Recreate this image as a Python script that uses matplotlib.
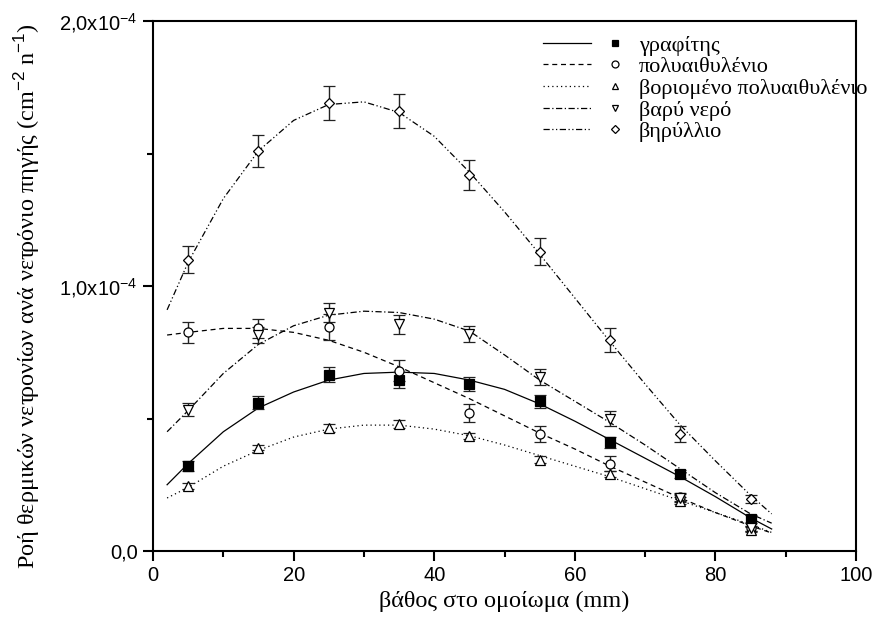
import numpy as np
import matplotlib
matplotlib.use("Agg")
import matplotlib.pyplot as plt
from matplotlib.lines import Line2D
from matplotlib.legend_handler import HandlerTuple
from matplotlib.ticker import FuncFormatter, MultipleLocator

plt.rcParams['mathtext.fontset'] = 'custom'
plt.rcParams['mathtext.rm'] = 'Liberation Sans'
plt.rcParams['mathtext.it'] = 'Liberation Sans:italic'

# measured points (units of 1e-4)
depth = [5, 15, 25, 35, 45, 55, 65, 75, 85]

graphite = [0.32, 0.56, 0.665, 0.645, 0.63, 0.565, 0.41, 0.29, 0.12]
graphite_err = [0.019, 0.026, 0.028, 0.03, 0.025, 0.025, 0.022, 0.016, 0.015]

poly = [0.825, 0.84, 0.845, 0.68, 0.52, 0.44, 0.33, 0.205, 0.085]
poly_err = [0.04, 0.035, 0.05, 0.04, 0.035, 0.03, 0.03, 0.015, 0.01]

borated = [0.245, 0.39, 0.465, 0.48, 0.435, 0.345, 0.29, 0.19, 0.08]
borated_err = [0.01, 0.01, 0.015, 0.015, 0.012, 0.012, 0.012, 0.012, 0.01]

heavy = [0.533, 0.815, 0.90, 0.856, 0.82, 0.655, 0.50, 0.20, 0.085]
heavy_err = [0.025, 0.03, 0.035, 0.036, 0.03, 0.03, 0.03, 0.015, 0.01]

beryl = [1.10, 1.51, 1.69, 1.66, 1.42, 1.13, 0.795, 0.44, 0.195]
beryl_err = [0.05, 0.06, 0.065, 0.065, 0.057, 0.05, 0.045, 0.03, 0.015]

# fitted curves
fit_x = [2, 5, 10, 15, 20, 25, 30, 35, 40, 45, 50, 55, 60, 65, 70, 75, 80, 85, 88]
graphite_fit = [0.25, 0.33, 0.45, 0.54, 0.60, 0.645, 0.67, 0.675, 0.67, 0.645,
                0.61, 0.555, 0.49, 0.42, 0.35, 0.28, 0.205, 0.125, 0.083]
poly_fit = [0.815, 0.825, 0.84, 0.84, 0.825, 0.795, 0.75, 0.695, 0.635, 0.575,
            0.51, 0.445, 0.385, 0.32, 0.26, 0.20, 0.145, 0.095, 0.068]
borated_fit = [0.20, 0.24, 0.32, 0.38, 0.43, 0.46, 0.475, 0.475, 0.46, 0.435,
               0.40, 0.36, 0.32, 0.28, 0.235, 0.19, 0.145, 0.10, 0.07]
heavy_fit = [0.45, 0.53, 0.67, 0.78, 0.85, 0.89, 0.905, 0.90, 0.875, 0.83,
             0.74, 0.645, 0.565, 0.485, 0.40, 0.31, 0.22, 0.14, 0.105]
beryl_fit = [0.91, 1.09, 1.33, 1.51, 1.625, 1.685, 1.695, 1.655, 1.565, 1.43,
             1.28, 1.12, 0.955, 0.79, 0.63, 0.475, 0.34, 0.21, 0.14]

labels = ['γραφίτης', 'πολυαιθυλένιο', 'βοριομένο πολυαιθυλένιο',
          'βαρύ νερό', 'βηρύλλιο']

series = [
    (graphite, graphite_err, graphite_fit, 's', 'k', '-'),
    (poly, poly_err, poly_fit, 'o', 'white', (0, (4, 3))),
    (borated, borated_err, borated_fit, '^', 'white', (0, (1, 2.5))),
    (heavy, heavy_err, heavy_fit, 'v', 'white', (0, (5, 2, 1, 2))),
    (beryl, beryl_err, beryl_fit, 'D', 'white', (0, (5, 2, 1, 2, 1, 2))),
]

fig = plt.figure(figsize=(8.75, 6.24), dpi=100)
ax = fig.add_axes([0.1749, 0.1170, 0.9783 - 0.1749, 0.9663 - 0.1170])

scale = 1e-4
handles = []
for (vals, errs, fit, mk, fc, ls), lab in zip(series, labels):
    ax.plot(fit_x, np.array(fit) * scale, color='k', lw=0.9, ls=ls)
    ms = 5.5 if mk == 'D' else 6.5
    ax.errorbar(depth, np.array(vals) * scale, yerr=np.array(errs) * scale,
                fmt=mk, ms=ms, mfc=fc, mec='k', mew=0.9, ecolor='#222222',
                elinewidth=1.0, capsize=4, capthick=1.0, zorder=3)
    h_line = Line2D([], [], color='k', lw=0.9, ls=ls)
    h_mark = Line2D([], [], color='k', marker=mk, ms=5 if mk != 'D' else 4.5,
                    mfc=fc, mec='k', mew=0.9, ls='none')
    handles.append((h_line, h_mark))

ax.set_xlim(0, 100)
ax.set_ylim(0, 2e-4)
ax.xaxis.set_major_locator(MultipleLocator(20))
ax.xaxis.set_minor_locator(MultipleLocator(10))
ax.yaxis.set_major_locator(MultipleLocator(1e-4))
ax.yaxis.set_minor_locator(MultipleLocator(0.5e-4))


def yfmt(v, pos):
    if abs(v) < 1e-12:
        return '0,0'
    m = ('%.1f' % (v / 1e-4)).replace('.', ',')
    return m + 'x10$^{-4}$'


ax.yaxis.set_major_formatter(FuncFormatter(yfmt))

for s in ax.spines.values():
    s.set_linewidth(1.5)
ax.tick_params(which='major', direction='out', length=7, width=1.5,
               labelsize=14.5, pad=4)
ax.tick_params(which='minor', direction='out', length=4, width=1.5)
for t in ax.get_xticklabels() + ax.get_yticklabels():
    t.set_fontfamily('Liberation Sans')

ax.set_xlabel('βάθος στο ομοίωμα (mm)', family='Liberation Serif',
              fontsize=17.5, labelpad=4)
ax.set_ylabel('Ροή θερμικών νετρονίων ανά νετρόνιο πηγής (cm$^{-2}$ n$^{-1}$)',
              family='Liberation Serif', fontsize=17.5)
ax.yaxis.set_label_coords(-0.158, 0.481)

leg = ax.legend(handles, labels, handler_map={tuple: HandlerTuple(ndivide=None, pad=0)},
                loc='upper left', bbox_to_anchor=(543 / 875, 1 - 35 / 624),
                bbox_transform=fig.transFigure, frameon=False, borderpad=0,
                borderaxespad=0, handlelength=4.3, handletextpad=0.0,
                labelspacing=0.05, prop={'family': 'Liberation Serif', 'size': 16})

fig.savefig('out.png', dpi=100)
